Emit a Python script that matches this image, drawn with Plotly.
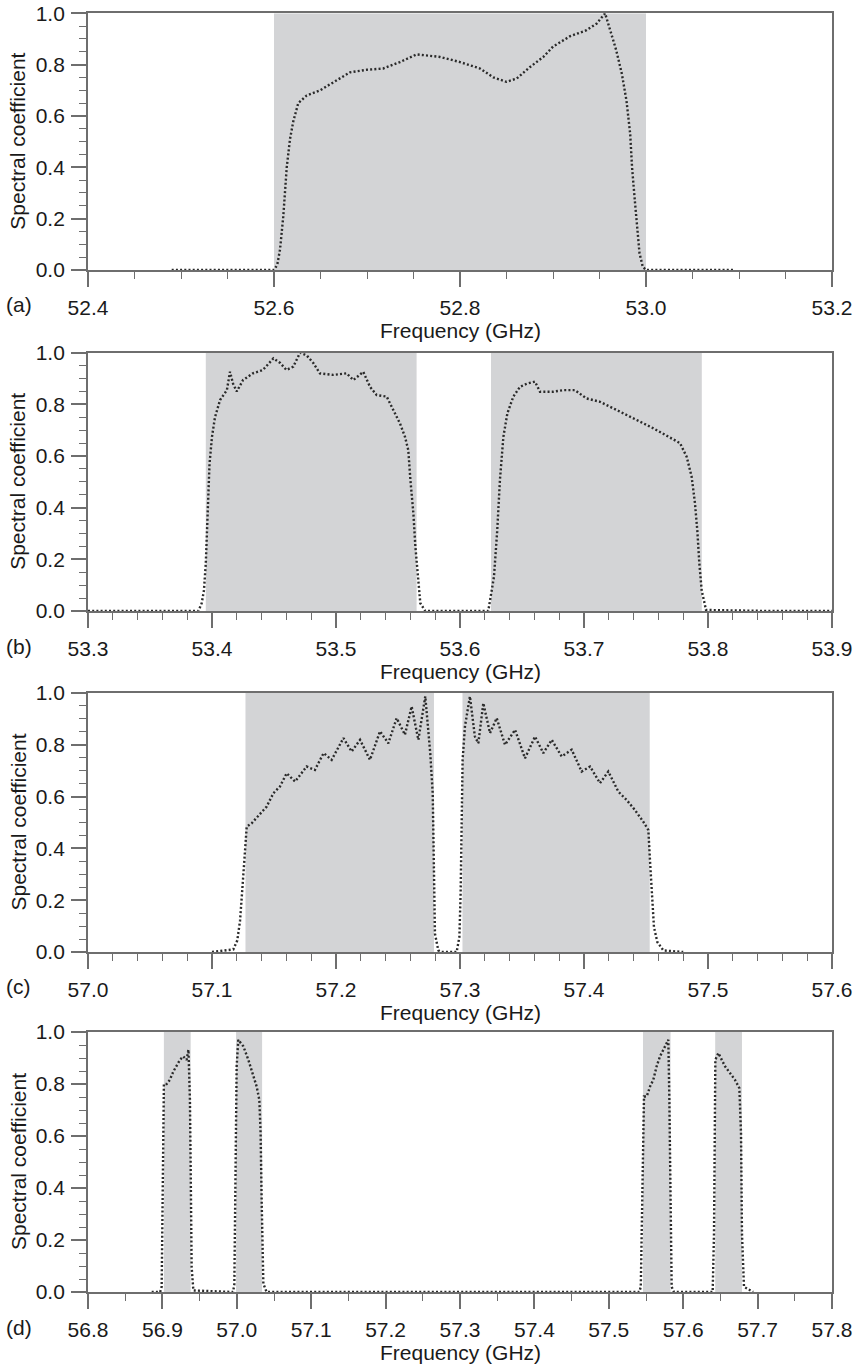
import plotly.graph_objects as go

# ---------------- data ----------------
# Panel (a)
a_freq = [52.49, 52.55, 52.600, 52.6035, 52.6065, 52.610, 52.6137, 52.6172, 52.6208, 52.6261,
          52.6352, 52.6495, 52.6638, 52.6817, 52.6997, 52.7175, 52.7355, 52.7534, 52.7785, 52.800,
          52.8215, 52.836, 52.850, 52.861, 52.875, 52.8896, 52.900, 52.918, 52.936, 52.947,
          52.956, 52.963, 52.968, 52.974, 52.979, 52.983, 52.985, 52.988, 52.991, 52.993,
          52.9965, 53.000, 53.05, 53.095]
a_val = [0, 0, 0, 0.02, 0.08, 0.21, 0.40, 0.51, 0.58, 0.65,
         0.68, 0.70, 0.73, 0.77, 0.78, 0.785, 0.81, 0.84, 0.83, 0.81,
         0.785, 0.75, 0.733, 0.746, 0.79, 0.83, 0.87, 0.91, 0.934, 0.96,
         1.0, 0.92, 0.856, 0.765, 0.66, 0.53, 0.40, 0.27, 0.14, 0.066,
         0.013, 0, 0, 0]
a_bands = [(52.600, 53.000)]

# Panel (b)
b1_freq = [53.30, 53.35, 53.389, 53.3917, 53.3935, 53.395, 53.396, 53.397, 53.398, 53.400,
           53.4024, 53.4065, 53.412, 53.4145, 53.417, 53.420, 53.425, 53.433, 53.441, 53.4495,
           53.455, 53.460, 53.4656, 53.471, 53.4763, 53.4817, 53.487, 53.4978, 53.5086, 53.514,
           53.522, 53.5274, 53.5328, 53.5409, 53.546, 53.5516, 53.5556, 53.5583, 53.560, 53.5624,
           53.564, 53.5664, 53.568, 53.572]
b1_val = [0, 0, 0, 0.03, 0.08, 0.185, 0.31, 0.44, 0.57, 0.675,
          0.75, 0.817, 0.855, 0.926, 0.88, 0.85, 0.894, 0.92, 0.933, 0.978,
          0.96, 0.933, 0.946, 1.0, 0.99, 0.96, 0.92, 0.914, 0.92, 0.894,
          0.926, 0.868, 0.836, 0.83, 0.778, 0.726, 0.675, 0.623, 0.507, 0.378,
          0.25, 0.107, 0.03, 0]
b2_freq = [53.600, 53.6228, 53.6274, 53.630, 53.6322, 53.635, 53.6382, 53.643, 53.6484, 53.6538,
           53.6605, 53.6645, 53.6753, 53.6833, 53.6927, 53.702, 53.7129, 53.7237, 53.7344, 53.7452,
           53.756, 53.7667, 53.7774, 53.7828, 53.7868, 53.7895, 53.7914, 53.793, 53.7949, 53.7984,
           53.85, 53.90]
b2_val = [0, 0, 0.133, 0.31, 0.507, 0.675, 0.765, 0.83, 0.868, 0.88,
          0.888, 0.849, 0.849, 0.855, 0.855, 0.823, 0.81, 0.785, 0.76, 0.733,
          0.707, 0.68, 0.65, 0.597, 0.52, 0.417, 0.31, 0.185, 0.08, 0.004,
          0, 0]
b_bands = [(53.395, 53.565), (53.625, 53.795)]

# Panel (c)
c1_freq = [57.100, 57.1172, 57.1204, 57.1226, 57.1242, 57.1258, 57.128, 57.132, 57.1387, 57.144,
           57.1495, 57.1548, 57.1602, 57.167, 57.1763, 57.183, 57.190, 57.1965, 57.206, 57.2126,
           57.2194, 57.2274, 57.2355, 57.2422, 57.2489, 57.2556, 57.261, 57.2664, 57.272, 57.276,
           57.278, 57.2788, 57.2792, 57.2798, 57.2825, 57.2852]
c1_val = [0, 0.01, 0.045, 0.12, 0.226, 0.355, 0.484, 0.497, 0.535, 0.561,
          0.613, 0.639, 0.69, 0.658, 0.716, 0.703, 0.768, 0.742, 0.826, 0.774,
          0.819, 0.742, 0.852, 0.806, 0.903, 0.839, 0.948, 0.819, 0.987, 0.768,
          0.613, 0.42, 0.226, 0.071, 0.006, 0]
c2_freq = [57.2973, 57.2995, 57.3005, 57.3013, 57.3021, 57.304, 57.308, 57.312, 57.3148, 57.3188,
           57.3242, 57.3296, 57.3363, 57.3444, 57.3524, 57.3605, 57.3672, 57.374, 57.382, 57.3901,
           57.3981, 57.4049, 57.4129, 57.4196, 57.4277, 57.4344, 57.4411, 57.4478, 57.4519, 57.4532,
           57.4546, 57.4564, 57.4591, 57.464, 57.480]
c2_val = [0, 0.058, 0.226, 0.484, 0.742, 0.871, 0.987, 0.832, 0.806, 0.961,
          0.845, 0.903, 0.80, 0.858, 0.748, 0.832, 0.768, 0.819, 0.755, 0.781,
          0.697, 0.716, 0.652, 0.697, 0.619, 0.587, 0.548, 0.503, 0.471, 0.355,
          0.226, 0.097, 0.039, 0.006, 0]
c_bands = [(57.127, 57.279), (57.302, 57.453)]

# Panel (d)
d1_freq = [56.8856, 56.897, 56.899, 56.9013, 56.902, 56.9057, 56.910, 56.9147, 56.9192, 56.9237,
           56.928, 56.9326, 56.935, 56.937, 56.938, 56.9393, 56.9416, 56.995]
d1_val = [0, 0, 0.02, 0.61, 0.80, 0.80, 0.816, 0.848, 0.868, 0.893,
          0.906, 0.893, 0.932, 0.74, 0.48, 0.096, 0.006, 0]
d2_freq = [56.9967, 56.9985, 56.9998, 57.002, 57.0088, 57.0155, 57.0222, 57.0267, 57.0303, 57.032,
           57.0334, 57.0357, 57.040, 57.049]
d2_val = [0.03, 0.48, 0.868, 0.97, 0.945, 0.893, 0.829, 0.79, 0.739, 0.61,
          0.353, 0.032, 0, 0]
d3_freq = [57.5308, 57.541, 57.543, 57.545, 57.5473, 57.551, 57.5554, 57.5598, 57.5643, 57.5688,
           57.5755, 57.580, 57.5814, 57.5823, 57.5845, 57.5876, 57.6396]
d3_val = [0, 0, 0.02, 0.353, 0.752, 0.752, 0.79, 0.816, 0.868, 0.906,
          0.945, 0.97, 0.739, 0.48, 0.02, 0, 0]
d4_freq = [57.6414, 57.6432, 57.6473, 57.6517, 57.6562, 57.6629, 57.6696, 57.6755, 57.6777, 57.679,
           57.6817, 57.694]
d4_val = [0.225, 0.893, 0.919, 0.893, 0.868, 0.842, 0.816, 0.784, 0.61, 0.225,
          0.02, 0]
d_bands = [(56.902, 56.938), (56.999, 57.034), (57.546, 57.583), (57.643, 57.679)]

panel_labels = ["(a)", "(b)", "(c)", "(d)"]
x_ranges = [(52.4, 53.2), (53.3, 53.9), (57.0, 57.6), (56.8, 57.8)]
x_major = [0.2, 0.1, 0.1, 0.1]
x_minor = [0.05, 0.02, 0.02, 0.05]
y_ticks = [0.0, 0.2, 0.4, 0.6, 0.8, 1.0]
x_title = "Frequency (GHz)"
y_title = "Spectral coefficient"

# ---------------- layout geometry (page body margin removed below) ----------------
W, H = 855, 1367


def px(xr):
    return xr / W


def py(yr):
    return 1 - yr / H


x_dom = [px(88), px(832)]
tops = [13.3, 352.7, 693, 1032]
bottoms = [270, 611, 952, 1292]

FONT = "Liberation Sans, Arial, Helvetica, sans-serif"
AX = "#6e6e6e"
SHADE = "#d3d4d6"
DOT = "#2a2a2a"
TXT = "#1a1a1a"

fig = go.Figure()

series = [
    [(a_freq, a_val)],
    [(b1_freq + b2_freq, b1_val + b2_val)],
    [(c1_freq + c2_freq, c1_val + c2_val)],
    [(d1_freq + d2_freq + d3_freq + d4_freq, d1_val + d2_val + d3_val + d4_val)],
]
bands = [a_bands, b_bands, c_bands, d_bands]

shapes = []
annotations = []
for i in range(4):
    xa = "x" if i == 0 else f"x{i+1}"
    ya = "y" if i == 0 else f"y{i+1}"
    for fx, fy in series[i]:
        fig.add_trace(go.Scatter(
            x=fx, y=fy, xaxis=xa, yaxis=ya, mode="lines",
            line=dict(color=DOT, width=2.4, dash="2px,2.2px"),
            showlegend=False, hoverinfo="skip"))
    for (x0, x1) in bands[i]:
        shapes.append(dict(type="rect", xref=xa, yref=ya, x0=x0, x1=x1, y0=0, y1=1,
                           fillcolor=SHADE, line=dict(width=0), layer="below"))
    dom = [py(bottoms[i]), py(tops[i])]
    xkey = "xaxis" if i == 0 else f"xaxis{i+1}"
    ykey = "yaxis" if i == 0 else f"yaxis{i+1}"
    fig.update_layout(**{
        xkey: dict(domain=x_dom, anchor=ya, range=list(x_ranges[i]), automargin=False,
                   tick0=x_ranges[i][0], dtick=x_major[i], tickformat=".1f",
                   ticks="outside", ticklen=15, tickwidth=1.6, tickcolor=AX,
                   showline=True, linecolor=AX, linewidth=1.8, mirror=True,
                   showgrid=False, zeroline=False, ticklabelstandoff=3,
                   ticklabeloverflow="allow",
                   tickfont=dict(family=FONT, size=21, color=TXT),
                   minor=dict(dtick=x_minor[i], tick0=x_ranges[i][0], ticks="outside",
                              ticklen=7, tickwidth=1.3, tickcolor=AX, showgrid=False)),
        ykey: dict(domain=dom, anchor=xa, range=[0, 1], automargin=False,
                   tickvals=y_ticks, tickformat=".1f",
                   ticks="outside", ticklen=15, tickwidth=1.6, tickcolor=AX,
                   showline=True, linecolor=AX, linewidth=1.8, mirror=True,
                   showgrid=False, zeroline=False, ticklabelstandoff=2,
                   ticklabeloverflow="allow",
                   tickfont=dict(family=FONT, size=21, color=TXT),
                   minor=dict(dtick=0.05, tick0=0, ticks="outside",
                              ticklen=7, tickwidth=1.3, tickcolor=AX, showgrid=False)),
    })
    annotations.append(dict(text=y_title, xref="paper", yref="paper", x=px(18),
                            y=py((tops[i] + bottoms[i]) / 2), textangle=-90,
                            showarrow=False, xanchor="center", yanchor="middle",
                            font=dict(family=FONT, size=21, color=TXT)))
    annotations.append(dict(text=x_title, xref="paper", yref="paper", x=px(460),
                            y=py(bottoms[i] + 60), showarrow=False,
                            xanchor="center", yanchor="middle",
                            font=dict(family=FONT, size=21, color=TXT)))
    annotations.append(dict(text=panel_labels[i], xref="paper", yref="paper", x=px(18.5),
                            y=py(bottoms[i] + 35), showarrow=False,
                            xanchor="center", yanchor="middle",
                            font=dict(family=FONT, size=21, color=TXT)))

fig.update_layout(width=W, height=H, margin=dict(l=0, r=0, t=0, b=0, autoexpand=False),
                  paper_bgcolor="white", plot_bgcolor="white",
                  shapes=shapes, annotations=annotations, showlegend=False)

fig.write_html("out.html", config={"displayModeBar": False},
               post_script="document.body.style.margin='0';document.body.style.overflow='hidden';")
